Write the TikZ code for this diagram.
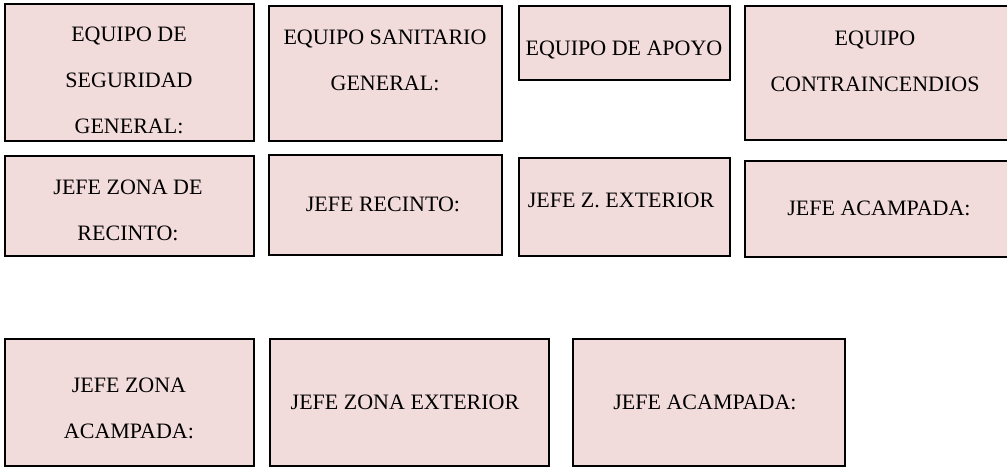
\documentclass[tikz,border=0pt]{standalone}
\usepackage{fontspec}
\setmainfont{Liberation Serif}
\usetikzlibrary{fit}
\definecolor{rosaCaja}{RGB}{242,220,219}

\begin{document}
\begin{tikzpicture}[x=0.5pt,y=-0.5pt,
    caja/.style={draw=black, line width=0.6pt, fill=rosaCaja, inner sep=0pt},
    rotulo/.style={align=center, inner sep=0pt, font=\fontsize{11}{23}\selectfont}]
   \useasboundingbox (0,0) rectangle (1007,468);

   % equipos
   \node[caja, fit={(5,4) (254,141)}] (segGen) {};
   \node[rotulo] (segGenT) at (129,80) {EQUIPO DE\\SEGURIDAD\\GENERAL:};

   \node[caja, fit={(269,6) (502,141)}] (sanGen) {};
   \node[rotulo] (sanGenT) at (385,60) {EQUIPO SANITARIO\\GENERAL:};

   \node[caja, fit={(519,6) (730,80)}] (apoyo) {};
   \node[rotulo] (apoyoT) at (624,50) {EQUIPO DE APOYO};

   \node[caja, fit={(745,6) (1009,140)}] (contra) {};
   \node[rotulo] (contraT) at (875,61) {EQUIPO\\CONTRAINCENDIOS};

   % jefes
   \node[caja, fit={(5,156) (254,256)}] (zonaRec) {};
   \node[rotulo] (zonaRecT) at (128,210) {JEFE ZONA DE\\RECINTO:};

   \node[caja, fit={(269,155) (502,255)}] (recinto) {};
   \node[rotulo] (recintoT) at (383,204) {JEFE RECINTO:};

   \node[caja, fit={(519,158) (730,256)}] (zExt) {};
   \node[rotulo] (zExtT) at (621,200) {JEFE Z. EXTERIOR};

   \node[caja, fit={(745,161) (1009,257)}] (acamp) {};
   \node[rotulo] (acampT) at (879,208) {JEFE ACAMPADA:};

%   \node[caja, fit={(5,300) (254,330)}] (vacia) {};

   \node[caja, fit={(5,339) (254,466)}] (zonaAcamp) {};
   \node[rotulo] (zonaAcampT) at (129,408) {JEFE ZONA\\ACAMPADA:};

   \node[caja, fit={(270,339) (549,466)}] (zonaExt) {};
   \node[rotulo] (zonaExtT) at (405,402) {JEFE ZONA EXTERIOR};

   \node[caja, fit={(573,339) (845,466)}] (acampB) {};
   \node[rotulo] (acampBT) at (705,402) {JEFE ACAMPADA:};
\end{tikzpicture}
\end{document}
